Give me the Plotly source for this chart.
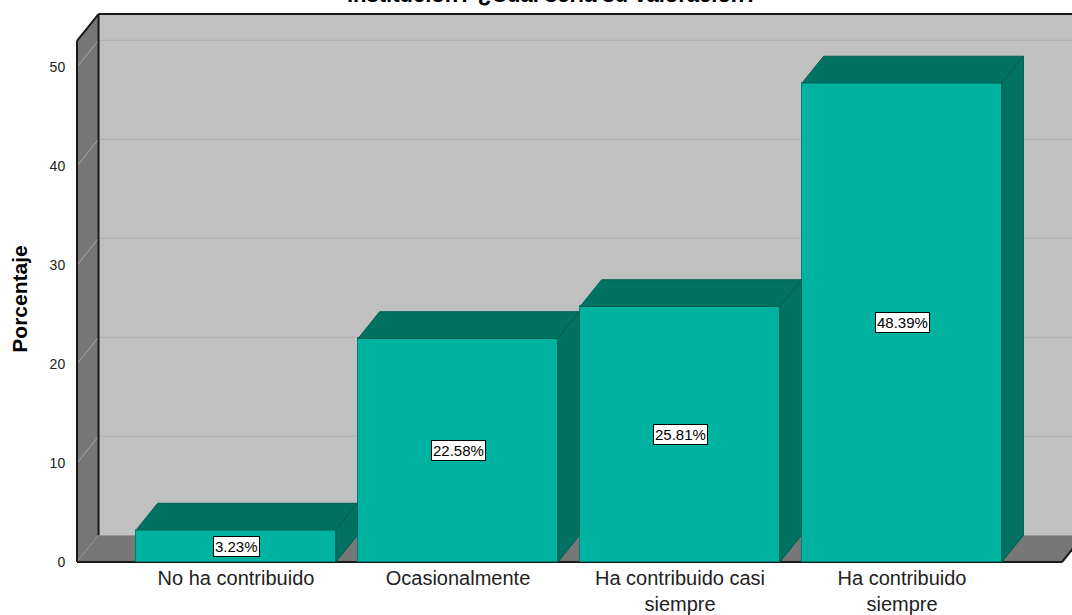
import plotly.graph_objects as go

# Datos del gráfico
categorias = ["No ha contribuido", "Ocasionalmente",
              "Ha contribuido casi<br>siempre", "Ha contribuido<br>siempre"]
porcentajes = [3.23, 22.58, 25.81, 48.39]
ticks_y = [0, 10, 20, 30, 40, 50]
titulo = "institución? ¿Cuál sería su valoración?"

# Geometría de la escena 3D (unidades de datos)
DX, DY = 0.097, 2.7           # desplazamiento de profundidad
ANCHO = 0.9                   # ancho de la cara frontal de cada barra
X_IZQ, X_DER = -0.7162, 3.721  # borde frontal de la pared lateral / suelo
TOPE = 52.65                  # altura del borde frontal de la pared lateral

C_FRENTE = "#00B3A0"
C_OSCURO = "#007262"
C_PARED = "#C0C0C0"
C_LATERAL = "#777777"
FUENTE = "Liberation Sans, Arial, sans-serif"

idx = list(range(len(categorias)))

fig = go.Figure()

shapes = []
# pared del fondo
shapes.append(dict(type="rect", xref="x", yref="y", layer="below",
                   x0=X_IZQ + DX, x1=X_DER + DX + 0.2, y0=DY, y1=TOPE + DY,
                   fillcolor=C_PARED, line=dict(width=0)))
# líneas de cuadrícula en la pared del fondo
for v in ticks_y[1:]:
    shapes.append(dict(type="line", xref="x", yref="y", layer="below",
                       x0=X_IZQ + DX, x1=X_DER + DX + 0.2, y0=v + DY, y1=v + DY,
                       line=dict(color="#ADADAD", width=1)))
# pared lateral izquierda
shapes.append(dict(type="path", xref="x", yref="y", layer="below",
                   path=f"M {X_IZQ},0 L {X_IZQ + DX},{DY} L {X_IZQ + DX},{TOPE + DY} "
                        f"L {X_IZQ},{TOPE} Z",
                   fillcolor=C_LATERAL, line=dict(width=0)))
for v in ticks_y:
    shapes.append(dict(type="line", xref="x", yref="y", layer="below",
                       x0=X_IZQ, x1=X_IZQ + DX, y0=v, y1=v + DY,
                       line=dict(color="#A8A8A8", width=1)))
# suelo
shapes.append(dict(type="path", xref="x", yref="y", layer="below",
                   path=f"M {X_IZQ},0 L {X_IZQ + DX},{DY} L {X_DER + DX},{DY} "
                        f"L {X_DER},0 Z",
                   fillcolor=C_LATERAL, line=dict(width=0)))
# aristas oscuras
aristas = [
    (X_IZQ + DX, DY, X_IZQ + DX, TOPE + DY),
    (X_IZQ + DX, TOPE + DY, X_DER + DX + 0.2, TOPE + DY),
    (X_IZQ, 0, X_IZQ, TOPE),
    (X_IZQ, TOPE, X_IZQ + DX, TOPE + DY),
    (X_IZQ, 0, X_DER, 0),
    (X_DER, 0, X_DER + DX, DY),
]
for x0, y0, x1, y1 in aristas:
    shapes.append(dict(type="line", xref="x", yref="y", layer="below",
                       x0=x0, y0=y0, x1=x1, y1=y1,
                       line=dict(color="#1a1a1a", width=2)))

# caras frontales
fig.add_trace(go.Bar(x=idx, y=porcentajes, width=ANCHO,
                     marker=dict(color=C_FRENTE, line=dict(color="#00806F", width=1)),
                     hoverinfo="skip", showlegend=False))

# caras superiores y laterales
for i, v in zip(idx, porcentajes):
    a, b = i - ANCHO / 2, i + ANCHO / 2
    fig.add_trace(go.Scatter(
        x=[a, a + DX, b + DX, b, a], y=[v, v + DY, v + DY, v, v],
        mode="lines", fill="toself", fillcolor=C_OSCURO,
        line=dict(color="#005E51", width=1), hoverinfo="skip", showlegend=False))
    fig.add_trace(go.Scatter(
        x=[b, b + DX, b + DX, b, b], y=[0, DY, v + DY, v, 0],
        mode="lines", fill="toself", fillcolor=C_OSCURO,
        line=dict(color="#005E51", width=1), hoverinfo="skip", showlegend=False))

annotations = []
for i, v in zip(idx, porcentajes):
    annotations.append(dict(x=i, y=v / 2, xref="x", yref="y",
                            text=f"{v:.2f}%", showarrow=False,
                            bgcolor="white", bordercolor="black", borderwidth=1,
                            borderpad=1, font=dict(family=FUENTE, size=15, color="black")))
annotations.append(dict(x=(20 - 75) / 997, xref="paper", y=26.5, yref="y",
                        text="<b>Porcentaje</b>", textangle=-90, showarrow=False,
                        xanchor="center", yanchor="middle",
                        font=dict(family=FUENTE, size=21, color="black")))
annotations.append(dict(x=(552 - 75) / 997, xref="paper", y=(552 + 3) / 552, yref="paper",
                        text=f"<b>{titulo}</b>", showarrow=False,
                        xanchor="center", yanchor="bottom",
                        font=dict(family=FUENTE, size=22, color="black")))

x_min = X_IZQ - 2 / 222
y_min = -2 / 9.9
fig.update_layout(
    width=1072, height=615,
    margin=dict(l=75, r=0, t=12, b=51),
    paper_bgcolor="white", plot_bgcolor="white",
    shapes=shapes, annotations=annotations,
    bargap=0,
    xaxis=dict(range=[x_min, x_min + 997 / 222], tickvals=idx, ticktext=categorias,
               showgrid=False, zeroline=False, showline=False, automargin=False,
               ticks="", ticklabelstandoff=0,
               tickfont=dict(family=FUENTE, size=20, color="#222222")),
    yaxis=dict(range=[y_min, y_min + 552 / 9.9], tickvals=ticks_y,
               ticktext=[str(t) for t in ticks_y],
               showgrid=False, zeroline=False, showline=False, automargin=False,
               ticks="outside", ticklen=6, tickcolor="rgba(0,0,0,0)",
               tickfont=dict(family=FUENTE, size=14, color="#222222")),
)

fig.write_html("out.html")
